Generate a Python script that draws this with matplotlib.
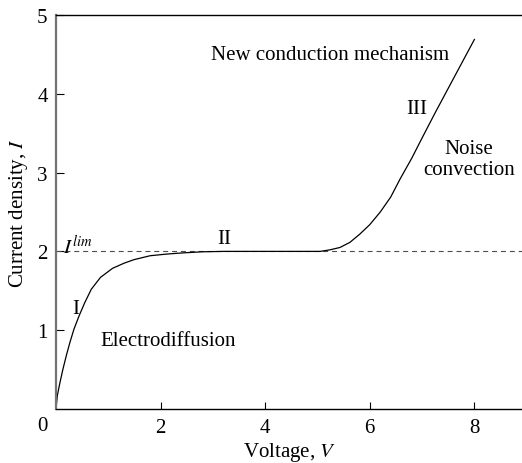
import matplotlib
matplotlib.use("Agg")
import matplotlib.pyplot as plt

plt.rcParams["font.family"] = ["Liberation Serif", "DejaVu Serif"]
plt.rcParams["mathtext.fontset"] = "stix"

# Current-voltage characteristic
voltage = [0.0, 0.025, 0.077, 0.134, 0.198, 0.268, 0.344, 0.44, 0.55, 0.675,
           0.85, 1.08, 1.30, 1.49, 1.80, 2.1, 2.4, 2.8, 3.2, 4.0, 5.05,
           5.24, 5.43, 5.62, 5.81, 6.0, 6.2, 6.4, 6.58, 6.8, 7.0, 7.25,
           7.5, 7.75, 8.0]
current = [0.0, 0.17, 0.34, 0.51, 0.68, 0.85, 1.015, 1.18, 1.35, 1.52,
           1.67, 1.785, 1.85, 1.895, 1.945, 1.965, 1.98, 1.995, 2.0, 2.0, 2.0,
           2.02, 2.05, 2.115, 2.22, 2.34, 2.50, 2.69, 2.92, 3.18, 3.44, 3.76,
           4.07, 4.38, 4.69]
i_lim = 2.0

x_ticks = [2, 4, 6, 8]
y_ticks = [1, 2, 3, 4, 5]

FS = 15

fig = plt.figure(figsize=(5.22, 4.64), dpi=100)
ax = fig.add_axes([0.1073, 0.1164, 0.8927, 0.8491])

ax.axhline(i_lim, color="0.3", lw=0.8, ls=(0, (4.5, 3.5)))
ax.plot(voltage, current, color="black", lw=0.9)

ax.set_xlim(0, 8.91)
ax.set_ylim(0, 5)
ax.set_xticks(x_ticks)
ax.set_yticks(y_ticks)
ax.tick_params(direction="in", length=5.4, width=0.8, labelsize=FS)
ax.tick_params(axis="x", pad=6.5)
ax.tick_params(axis="y", pad=6)
ax.spines["right"].set_visible(False)
ax.spines["left"].set_color("0.45")
ax.spines["left"].set_linewidth(1.6)
ax.spines["top"].set_linewidth(1.0)
ax.spines["bottom"].set_linewidth(1.0)

fig.text(42 / 522, 1 - 427 / 464, "0", fontsize=FS, ha="center", va="center")

ax.set_xlabel("Voltage, $V$", fontsize=FS)
ax.xaxis.set_label_coords(0.5, -0.107)
ax.xaxis.label.set_va("center")
ax.set_ylabel("Current density, $I$", fontsize=FS)
ax.yaxis.set_label_coords(-0.08, 0.5)
ax.yaxis.label.set_va("center")

ax.text(0.13, 1.97, r"$I^{lim}$", fontsize=FS, ha="left", va="baseline")
ax.text(3.21, 2.17, "II", fontsize=FS, ha="center", va="center")
ax.text(0.37, 1.28, "I", fontsize=FS, ha="center", va="center")
ax.text(2.14, 0.87, "Electrodiffusion", fontsize=FS, ha="center", va="center")
ax.text(5.24, 4.5, "New conduction mechanism", fontsize=FS, ha="center", va="center")
ax.text(6.90, 3.81, "III", fontsize=FS, ha="center", va="center")
ax.text(7.89, 3.17, "Noise\nconvection", fontsize=FS, ha="center", va="center",
        linespacing=1.15)

fig.savefig("out.png", dpi=100)
